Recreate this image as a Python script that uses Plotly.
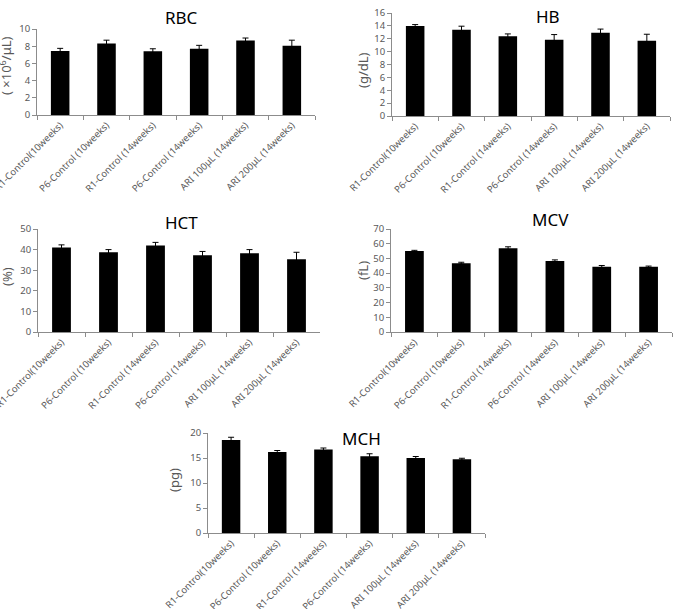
import plotly.graph_objects as go

categories = ["R1-Control(10weeks)", "P6-Control (10weeks)", "R1-Control (14weeks)",
              "P6-Control (14weeks)", "ARI 100μL (14weeks)", "ARI 200μL (14weeks)"]

rbc = [7.45, 8.3, 7.4, 7.7, 8.65, 8.05]
rbc_err = [0.3, 0.4, 0.3, 0.4, 0.3, 0.65]
hb = [14.0, 13.4, 12.4, 11.85, 12.95, 11.7]
hb_err = [0.2, 0.55, 0.35, 0.8, 0.55, 1.0]
hct = [41.0, 38.7, 42.0, 37.2, 38.2, 35.3]
hct_err = [1.3, 1.3, 1.5, 1.9, 1.8, 3.4]
mcv = [55.0, 46.8, 57.0, 48.2, 44.3, 44.3]
mcv_err = [0.5, 0.6, 0.9, 0.8, 0.9, 0.5]
mch = [18.6, 16.2, 16.7, 15.35, 15.0, 14.75]
mch_err = [0.55, 0.3, 0.3, 0.5, 0.3, 0.2]

W, H = 673, 609

panels = [
    # name, values, err, ytitle, ymax, dtick, plot px box (x0,x1,y0,y1), title pos, ytitle pos
    ("RBC", rbc, rbc_err, "( ×10<sup>6</sup>/μL)", 10, 2, (37, 315, 29, 115), (181, 18), (6, 66)),
    ("HB", hb, hb_err, "(g/dL)", 16, 2, (392, 670, 13, 116), (548, 17), (363, 70)),
    ("HCT", hct, hct_err, "(%)", 50, 10, (38, 320, 229, 332), (181, 222), (7, 277)),
    ("MCV", mcv, mcv_err, "(fL)", 70, 10, (391, 672, 229, 332), (550, 219), (363, 271)),
    ("MCH", mch, mch_err, "(pg)", 20, 5, (208, 485, 433, 533), (361, 438), (174, 480)),
]

fig = go.Figure()
annotations = []
font = "Noto Sans, Open Sans, sans-serif"
gray = "#595959"
axis_col = "#8c8c8c"

for i, (name, vals, err, ytitle, ymax, dtick, box, tpos, ypos) in enumerate(panels):
    n = "" if i == 0 else str(i + 1)
    x0, x1, y0, y1 = box
    fig.add_trace(go.Bar(
        x=categories, y=vals,
        marker=dict(color="black", line=dict(color="black", width=0)),
        width=0.4,
        error_y=dict(type="data", array=err, symmetric=True, color="black",
                     thickness=1, width=3),
        xaxis="x" + n, yaxis="y" + n, showlegend=False,
    ))
    fig.update_layout(**{
        "xaxis" + n: dict(domain=[x0 / W, x1 / W], anchor="y" + n,
                          tickangle=-45, tickson="boundaries", ticks="outside",
                          ticklen=4, tickcolor=axis_col, showline=True,
                          linecolor=axis_col, linewidth=1, automargin=False,
                          tickfont=dict(size=9.5, color=gray, family=font),
                          showgrid=False, fixedrange=True),
        "yaxis" + n: dict(domain=[1 - y1 / H, 1 - y0 / H], anchor="x" + n,
                          range=[0, ymax], dtick=dtick, ticks="outside",
                          ticklen=4, tickcolor=axis_col, showline=True,
                          linecolor=axis_col, linewidth=1, automargin=False,
                          tickfont=dict(size=9.5, color=gray, family=font),
                          showgrid=False, zeroline=False, fixedrange=True),
    })
    annotations.append(dict(text=name, x=tpos[0] / W, y=1 - tpos[1] / H,
                            xref="paper", yref="paper", showarrow=False,
                            xanchor="center", yanchor="middle",
                            font=dict(size=17, color="black", family=font)))
    annotations.append(dict(text=ytitle, x=ypos[0] / W, y=1 - ypos[1] / H,
                            xref="paper", yref="paper", showarrow=False,
                            xanchor="center", yanchor="middle", textangle=-90,
                            font=dict(size=13, color=gray, family=font)))

fig.update_layout(width=W, height=H, margin=dict(l=0, r=0, t=0, b=0),
                  paper_bgcolor="white", plot_bgcolor="white",
                  annotations=annotations, bargap=0.6)

fig.write_html("out.html")
